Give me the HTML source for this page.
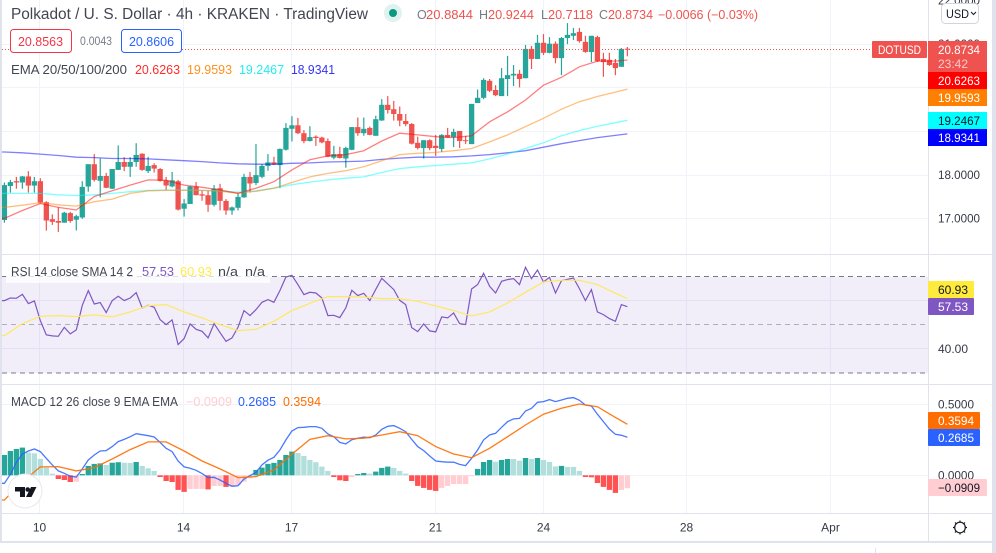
<!DOCTYPE html>
<html lang="en">
<head>
<meta charset="utf-8">
<title>Polkadot / U. S. Dollar 4h chart</title>
<style>
html,body{margin:0;padding:0;background:#fff;width:996px;height:553px;overflow:hidden}
svg{display:block;font-family:"Liberation Sans",Arial,sans-serif}
.ax{font-size:12px;fill:#363a45}
.lg{font-size:12.5px}
.pl{font-size:12px;font-weight:400;fill:#fff}
</style>
</head>
<body>
<svg id="chart" width="996" height="553" viewBox="0 0 996 553">
  <rect x="0" y="0" width="996" height="553" fill="#fff"/>
  <g id="grid"></g>
  <rect x="2" y="276.7" width="926" height="96.3" fill="#7e57c2" fill-opacity="0.1"/>
  <line x1="2" x2="928" y1="276.5" y2="276.5" stroke="#787b86" stroke-dasharray="5 4"/>
  <line x1="2" x2="928" y1="324.5" y2="324.5" stroke="#787b86" stroke-opacity="0.55" stroke-dasharray="5 4"/>
  <line x1="2" x2="928" y1="373" y2="373" stroke="#787b86" stroke-dasharray="5 4"/>
  <g id="candles"></g>
  <g id="emas"></g>
  <line id="lastPriceLine" x1="2" x2="872" stroke="#ef5350" stroke-dasharray="1 2"/>
  <g id="rsi"></g>
  <g id="hist"></g>
  <g id="macd"></g>

  <!-- frame -->
  <rect x="0" y="0" width="2" height="541" fill="#e0e3eb"/>
  <rect x="992" y="0" width="4" height="553" fill="#dfe3ee"/>
  <rect x="2" y="254" width="990" height="1" fill="#e0e3eb"/>
  <rect x="2" y="384" width="990" height="1" fill="#e0e3eb"/>
  <rect x="2" y="513" width="990" height="1" fill="#e0e3eb"/>
  <rect x="0" y="541" width="992" height="2" fill="#e0e3eb"/>
  <rect x="875" y="548" width="1" height="5" fill="#e0e3eb"/>
  <rect x="928" y="0" width="1" height="541" fill="#e0e3eb"/>
  <g id="axisLabels"></g>

  <!-- header -->
  <text x="11" y="19" font-size="15.5" fill="#434651" textLength="357" lengthAdjust="spacingAndGlyphs">Polkadot / U. S. Dollar · 4h · KRAKEN · TradingView</text>
  <circle cx="393" cy="13" r="9" fill="#e0f2ef"/>
  <circle cx="393" cy="13" r="4" fill="#089981"/>
  <g class="lg">
    <text x="417" y="19" fill="#787b86">O</text>
    <text x="426" y="19" fill="#ef5350" textLength="47" lengthAdjust="spacingAndGlyphs">20.8844</text>
    <text x="479" y="19" fill="#787b86">H</text>
    <text x="488" y="19" fill="#ef5350" textLength="46" lengthAdjust="spacingAndGlyphs">20.9244</text>
    <text x="541" y="19" fill="#787b86">L</text>
    <text x="548" y="19" fill="#ef5350" textLength="45" lengthAdjust="spacingAndGlyphs">20.7118</text>
    <text x="599" y="19" fill="#787b86">C</text>
    <text x="608" y="19" fill="#ef5350" textLength="45" lengthAdjust="spacingAndGlyphs">20.8734</text>
    <text x="658" y="19" fill="#ef5350" textLength="100" lengthAdjust="spacingAndGlyphs">−0.0066 (−0.03%)</text>
  </g>
  <rect x="10.5" y="29.5" width="61" height="23" rx="3" fill="#fff" stroke="#f23645"/>
  <text x="18" y="46" font-size="12.5" fill="#f23645" textLength="45" lengthAdjust="spacingAndGlyphs">20.8563</text>
  <rect x="72" y="30" width="49" height="22" fill="#fff"/>
  <text x="80" y="45" font-size="11.5" fill="#787b86" textLength="32" lengthAdjust="spacingAndGlyphs">0.0043</text>
  <rect x="121.5" y="29.5" width="60" height="23" rx="3" fill="#fff" stroke="#2962ff"/>
  <text x="129" y="46" font-size="12.5" fill="#2962ff" textLength="45" lengthAdjust="spacingAndGlyphs">20.8606</text>

  <!-- EMA legend -->
  <g class="lg">
    <text x="11" y="74" fill="#434651" textLength="116" lengthAdjust="spacingAndGlyphs">EMA 20/50/100/200</text>
    <text x="135" y="74" fill="#ff2b2b" textLength="45" lengthAdjust="spacingAndGlyphs">20.6263</text>
    <text x="187" y="74" fill="#ff9020" textLength="45" lengthAdjust="spacingAndGlyphs">19.9593</text>
    <text x="239" y="74" fill="#22eeee" textLength="45" lengthAdjust="spacingAndGlyphs">19.2467</text>
    <text x="291" y="74" fill="#3535f0" textLength="44" lengthAdjust="spacingAndGlyphs">18.9341</text>
  </g>

  <!-- RSI legend -->
  <rect x="6" y="264" width="264" height="19" fill="#fff" fill-opacity="0.75"/>
  <g class="lg">
    <text x="11" y="276" fill="#434651" textLength="122" lengthAdjust="spacingAndGlyphs">RSI 14 close SMA 14 2</text>
    <text x="142" y="276" fill="#7e57c2" textLength="32" lengthAdjust="spacingAndGlyphs">57.53</text>
    <text x="180" y="276" fill="#ffe94d" textLength="32" lengthAdjust="spacingAndGlyphs">60.93</text>
    <text x="218" y="276" fill="#434651" textLength="20" lengthAdjust="spacingAndGlyphs">n/a</text>
    <text x="245" y="276" fill="#434651" textLength="20" lengthAdjust="spacingAndGlyphs">n/a</text>
  </g>

  <!-- MACD legend -->
  <g class="lg">
    <text x="11" y="406" fill="#434651" textLength="167" lengthAdjust="spacingAndGlyphs">MACD 12 26 close 9 EMA EMA</text>
    <text x="186" y="406" fill="#ffcdd2" textLength="46" lengthAdjust="spacingAndGlyphs">−0.0909</text>
    <text x="238" y="406" fill="#2962ff" textLength="38" lengthAdjust="spacingAndGlyphs">0.2685</text>
    <text x="283" y="406" fill="#ff6d00" textLength="38" lengthAdjust="spacingAndGlyphs">0.3594</text>
  </g>

  <!-- TradingView logo -->
  <g>
    <circle cx="25" cy="491" r="17" fill="#fff" stroke="#e8e8ec"/>
    <path d="M15 487h10v10h-5v-5.500h-5z" fill="#131722"/>
    <circle cx="27.700" cy="489.500" r="2.300" fill="#131722"/>
    <path d="M31 487h5.500l-5 10h-5.500z" fill="#131722"/>
  </g>

  <!-- price axis badges -->
  <rect x="941.500" y="3.500" width="37" height="20" rx="4" fill="#fff" stroke="#d1d4dc"/>
  <text x="946" y="18" font-size="12" fill="#131722" textLength="23" lengthAdjust="spacingAndGlyphs">USD</text>
  <path d="M971 12l2.500 2.500 2.500-2.500" fill="none" stroke="#131722"/>

  <rect x="872" y="41" width="55" height="17" rx="1" fill="#ef5350"/>
  <text x="878" y="54" class="pl" textLength="43" lengthAdjust="spacingAndGlyphs">DOTUSD</text>
  <rect x="928" y="41" width="59" height="31" fill="#ef5350"/>
  <text x="938" y="54" class="pl" textLength="42" lengthAdjust="spacingAndGlyphs">20.8734</text>
  <text x="938" y="68" class="pl" style="fill:#ffc9c9" textLength="30" lengthAdjust="spacingAndGlyphs">23:42</text>
  <rect x="928" y="72" width="59" height="17" fill="#ff0000"/>
  <text x="938" y="85" class="pl" textLength="42" lengthAdjust="spacingAndGlyphs">20.6263</text>
  <rect x="928" y="89" width="59" height="17" fill="#ff8000"/>
  <text x="938" y="102" class="pl" textLength="42" lengthAdjust="spacingAndGlyphs">19.9593</text>
  <rect x="928" y="112" width="59" height="17" fill="#00ffff"/>
  <text x="938" y="125" class="pl" style="fill:#131722" textLength="42" lengthAdjust="spacingAndGlyphs">19.2467</text>
  <rect x="928" y="129" width="59" height="17" fill="#0000ff"/>
  <text x="938" y="142" class="pl" textLength="42" lengthAdjust="spacingAndGlyphs">18.9341</text>

  <rect x="928" y="281" width="46" height="17" rx="1" fill="#ffeb3b"/>
  <text x="938" y="294" class="pl" style="fill:#131722" textLength="30" lengthAdjust="spacingAndGlyphs">60.93</text>
  <rect x="928" y="298" width="46" height="17" rx="1" fill="#7e57c2"/>
  <text x="938" y="311" class="pl" textLength="30" lengthAdjust="spacingAndGlyphs">57.53</text>

  <rect x="928" y="412" width="52" height="17" rx="1" fill="#ff6d00"/>
  <text x="938" y="425" class="pl" textLength="36" lengthAdjust="spacingAndGlyphs">0.3594</text>
  <rect x="928" y="429" width="52" height="17" rx="1" fill="#2962ff"/>
  <text x="938" y="442" class="pl" textLength="36" lengthAdjust="spacingAndGlyphs">0.2685</text>
  <rect x="928" y="479" width="59" height="17" rx="1" fill="#ffcdd2"/>
  <text x="938" y="492" class="pl" style="fill:#131722" textLength="42" lengthAdjust="spacingAndGlyphs">−0.0909</text>

  <!-- settings gear -->
  <g fill="none" stroke="#131722">
    <circle cx="960" cy="527.500" r="5.300" stroke-width="1.200"/>
    <path d="M960 520.500v2M960 532.500v2M953 527.500h2M965 527.500h2M955 522.500l1.400 1.400M963.600 531.100l1.400 1.400M965 522.500l-1.400 1.400M956.400 531.100l-1.400 1.400" stroke-width="1.200"/>
  </g>
</svg>

<script>
// ---- candle data ----
const opens = [16.96,17.74,17.85,17.82,17.96,17.75,17.85,17.37,16.98,16.94,
16.90,17.12,16.97,17.02,17.73,18.24,17.86,17.97,17.68,18.11,
18.29,18.18,18.29,18.48,18.08,18.22,18.13,17.87,17.73,17.85,
17.22,17.33,17.73,17.55,17.53,17.31,17.69,17.40,17.18,17.24,
17.48,17.95,17.81,17.95,18.20,18.28,18.22,18.57,19.05,19.13,
18.95,18.77,18.87,18.85,18.77,18.39,18.47,18.37,18.57,19.09,
18.95,19.07,18.89,19.24,19.60,19.50,19.39,19.23,19.16,18.73,
18.61,18.79,18.66,18.59,18.91,18.86,19.00,18.79,18.70,19.64,
19.76,20.15,19.94,19.80,20.19,20.27,20.31,20.21,20.88,20.65,
21.02,20.79,21.00,20.67,21.13,21.18,21.27,21.04,20.81,21.15,
20.65,20.63,20.56,20.47,20.8844];
const highs = [17.82,17.88,17.95,17.97,18.08,17.95,17.92,17.39,17.09,17.25,
17.15,17.15,17.08,17.85,18.24,18.47,18.37,18.04,18.13,18.67,
18.40,18.40,18.72,18.49,18.41,18.26,18.15,17.95,18.06,17.88,
17.44,17.74,17.83,17.63,17.63,17.76,17.79,17.44,17.27,17.57,
18.02,18.06,18.70,18.24,18.47,18.41,18.60,19.18,19.34,19.30,
19.02,19.11,18.90,18.87,18.83,18.66,18.64,18.64,19.09,19.31,
19.31,19.10,19.35,19.73,19.80,19.69,19.56,19.39,19.18,18.87,
18.79,18.81,18.91,18.93,19.07,19.05,19.00,18.89,19.62,19.95,
20.21,20.19,20.05,20.44,20.72,20.51,20.40,20.97,20.95,21.20,
21.22,21.15,21.05,21.15,21.47,21.36,21.36,21.18,21.18,21.18,
20.79,20.79,20.65,20.90,20.9244];
const lows = [16.90,17.59,17.68,17.68,17.59,17.59,17.34,16.72,16.85,16.69,
16.90,16.90,16.72,16.99,17.61,17.84,17.48,17.69,17.67,18.11,
18.08,17.95,18.18,18.09,18.04,18.05,17.84,17.65,17.71,17.18,
17.04,17.33,17.53,17.40,17.15,17.27,17.18,17.08,17.08,17.18,
17.47,17.59,17.76,17.92,18.09,18.22,17.69,18.55,18.76,18.93,
18.72,18.76,18.66,18.72,18.40,18.35,18.37,18.16,18.56,18.89,
18.89,18.90,18.89,19.23,19.40,19.24,19.11,19.11,18.69,18.58,
18.37,18.56,18.43,18.52,18.84,18.63,18.61,18.70,18.70,19.64,
19.73,19.89,19.80,19.80,19.80,20.03,20.00,20.21,20.42,20.65,
20.74,20.78,20.55,20.28,20.99,21.08,21.02,20.79,20.58,20.58,
20.24,20.49,20.28,20.47,20.7118];
const closes = [17.76,17.83,17.82,17.96,17.75,17.85,17.36,16.95,16.92,16.90,
17.13,16.94,17.05,17.72,18.24,17.88,17.97,17.70,18.13,18.29,
18.18,18.29,18.45,18.11,18.20,18.14,17.86,17.75,17.87,17.20,
17.34,17.73,17.53,17.52,17.31,17.68,17.40,17.18,17.25,17.49,
17.95,17.80,17.99,18.20,18.28,18.23,18.59,19.07,19.13,18.95,
18.77,18.86,18.84,18.74,18.41,18.47,18.38,18.61,19.09,18.95,
19.05,18.91,19.27,19.60,19.48,19.39,19.24,19.16,18.71,18.61,
18.79,18.61,18.61,18.91,18.85,18.98,18.77,18.77,19.62,19.76,
20.17,19.92,19.82,20.21,20.28,20.31,20.19,20.88,20.65,21.02,
20.79,21.00,20.67,21.13,21.20,21.24,21.06,20.81,21.18,20.60,
20.58,20.51,20.44,20.88,20.8734];

// ---- bars at which the smooth indicator lines were read ----
const sampleBars = [0,3,6,9,12,15,18,21,24,27,30,33,36,39,42,45,48,51,54,57,60,63,66,69,72,75,78,81,84,87,90,93,96,99,102,104];

const ema20 = [17.00,17.18,17.34,17.25,17.19,17.50,17.63,17.76,17.88,17.87,17.76,17.71,17.65,17.57,17.69,17.84,18.11,18.34,18.43,18.46,18.55,18.77,18.95,18.91,18.87,18.85,18.89,19.21,19.44,19.71,20.05,20.23,20.47,20.60,20.60,20.6263];
const ema50 = [17.25,17.30,17.36,17.31,17.28,17.38,17.44,17.57,17.63,17.64,17.64,17.64,17.62,17.58,17.62,17.69,17.82,17.95,18.03,18.09,18.18,18.32,18.46,18.49,18.51,18.55,18.60,18.75,18.91,19.10,19.29,19.50,19.67,19.79,19.89,19.9593];
const ema100 = [17.57,17.57,17.57,17.54,17.52,17.54,17.57,17.61,17.64,17.65,17.65,17.64,17.63,17.60,17.63,17.69,17.77,17.83,17.88,17.92,17.95,18.05,18.14,18.18,18.21,18.24,18.27,18.36,18.47,18.60,18.73,18.89,19.01,19.11,19.19,19.2467];
const ema200 = [18.52,18.50,18.47,18.44,18.40,18.39,18.37,18.37,18.36,18.34,18.32,18.30,18.27,18.25,18.24,18.24,18.26,18.27,18.29,18.30,18.31,18.35,18.38,18.40,18.40,18.41,18.43,18.46,18.50,18.55,18.63,18.71,18.78,18.85,18.90,18.9341];

// ---- RSI (every bar) and its SMA (sampleBars) ----
const rsiValues = [60.05,61.16,61.02,62.68,58.81,59.92,51.76,45.81,45.39,45.25,
48.99,46.22,47.88,58.12,64.20,58.67,59.22,55.07,60.05,61.85,
60.05,61.16,63.37,57.01,58.12,57.29,52.17,50.10,52.03,41.80,
44.29,50.37,48.16,47.33,44.56,50.51,46.78,43.18,44.56,48.99,
55.90,53.83,56.32,59.36,60.47,59.36,64.20,69.87,70.56,66.69,
62.54,63.51,63.23,61.16,53.83,53.97,53.00,57.01,64.34,62.13,
63.10,60.05,64.76,69.32,66.97,64.62,60.19,58.39,48.85,47.19,
50.37,47.47,47.05,53.28,52.86,54.94,50.51,50.10,64.89,66.69,
71.39,66.00,63.23,68.07,68.77,69.18,66.69,73.88,69.18,72.78,
67.80,69.73,63.23,68.35,68.90,69.46,65.03,60.05,64.62,55.35,
54.25,52.59,51.48,58.39,57.53];
const rsiSma = [45.53,50.51,53.55,53.83,53.41,54.11,53.28,55.35,57.98,58.39,55.35,52.86,50.10,47.61,48.16,51.48,55.90,58.95,61.71,61.71,61.57,60.88,60.88,59.78,57.84,55.90,53.69,55.35,59.09,63.51,67.80,68.49,68.49,66.69,63.10,60.93];

// ---- MACD ----
const macdHist = [.143,.171,.185,.195,.160,.155,.115,.054,.012,-.026,
-.033,-.047,-.045,.009,.066,.080,.084,.073,.089,.092,
.089,.087,.094,.066,.049,.031,-.012,-.040,-.047,-.103,
-.117,-.096,-.096,-.096,-.099,-.075,-.075,-.082,-.082,-.068,
-.045,-.021,.038,.054,.080,.087,.108,.143,.167,.157,
.136,.108,.092,.061,.031,-.012,-.035,-.040,-.012,.009,
.016,.012,.026,.052,.061,.052,.031,.012,-.040,-.075,
-.089,-.103,-.110,-.089,-.075,-.061,-.061,-.061,-.005,.045,
.094,.108,.096,.108,.115,.115,.103,.122,.115,.122,
.108,.094,.063,.066,.059,.059,.031,-.012,-.014,-.054,
-.082,-.103,-.124,-.103,-.0909];
const macdLine = [-.056,.007,.092,.150,.171,.185,.167,.120,.073,.031,
.014,-.007,-.012,.045,.108,.143,.171,.174,.202,.237,
.253,.272,.293,.286,.279,.270,.232,.190,.167,.101,
.059,.049,.035,.012,-.016,-.014,-.033,-.056,-.077,-.073,
-.026,-.002,.021,.073,.106,.127,.178,.249,.312,.336,
.338,.343,.343,.331,.291,.272,.232,.221,.251,.261,
.268,.265,.284,.324,.345,.350,.331,.307,.253,.202,
.174,.136,.101,.096,.092,.092,.077,.068,.120,.178,
.249,.284,.296,.338,.378,.397,.401,.453,.472,.514,
.519,.533,.519,.530,.542,.547,.528,.495,.488,.430,
.378,.326,.289,.282,.2685];
const macdSignal = [-.174,-.045,.059,.061,.031,.054,.115,.181,.235,.235,.171,.101,.045,-.016,-.009,.038,.148,.253,.279,.256,.261,.284,.307,.279,.202,.150,.124,.190,.272,.354,.430,.472,.502,.483,.408,.3594];

// ---- axis ticks ----
const priceTicks = [22,21,18,17];
const priceGrid = [21,20,19,18,17];
const rsiTicks = [40];
const rsiGrid = [60,40];
const macdTicks = [0.5,0];
const dateBars = [6,30,48,72,90,114,138];
const dateLabels = ["10","14","17","21","24","28","Apr"];

// ---- axis functions ----
const BAR_STEP = 5.99, BAR_START = 4.4, BODY_W = 5.3;
const xBar = i => BAR_START + i * BAR_STEP;
const yPrice = p => (22 - p) * 43.667;
const yRsi = v => 276.67 + (70 - v) * 2.408;
const yMacd = v => 475.3 - v * 142;

const root = document.getElementById('chart');
const NS = root.namespaceURI;
function mk(parent, tag, attrs, text) {
  const el = document.createElementNS(NS, tag);
  for (const k in attrs) el.setAttribute(k, attrs[k]);
  if (text !== undefined) el.textContent = text;
  parent.appendChild(el);
  return el;
}
const $ = id => document.getElementById(id);

// grid
const GRID = '#f0f3fa';
dateBars.forEach((b, i) => {
  const x = Math.round(xBar(b)) - 0.5;
  [[0, 254], [255, 384], [385, 513]].forEach(seg => {
    const el = mk($('grid'), 'line', {x1: x, x2: x, y1: seg[0], y2: seg[1], stroke: GRID});
    
    
  });
  const t = mk($('axisLabels'), 'text', {x: x, y: 531.5, 'text-anchor': 'middle', class: 'ax'}, dateLabels[i]);
  
  
});
priceGrid.forEach(p => {
  const y = Math.round(yPrice(p)) + 0.5;
  const el = mk($('grid'), 'line', {x1: 2, x2: 928, y1: y, y2: y, stroke: GRID});
  
  
});
rsiGrid.forEach(v => {
  const y = Math.round(yRsi(v)) - 0.5;
  const el = mk($('grid'), 'line', {x1: 2, x2: 928, y1: y, y2: y, stroke: '#f0f0f6'});
  
  
});
macdTicks.forEach(v => {
  const y = Math.round(yMacd(v)) + 0.5;
  const el = mk($('grid'), 'line', {x1: 2, x2: 928, y1: y, y2: y, stroke: GRID});
  
  
  const t = mk($('axisLabels'), 'text', {x: 938, y: yMacd(v) + 4.3, class: 'ax', textLength: 36, lengthAdjust: 'spacingAndGlyphs'}, v.toFixed(4));
  
  
});
priceTicks.forEach(p => {
  const t = mk($('axisLabels'), 'text', {x: 938, y: yPrice(p) + 4.3, class: 'ax', textLength: 42, lengthAdjust: 'spacingAndGlyphs'}, p.toFixed(4));
  
  
});
rsiTicks.forEach(v => {
  const t = mk($('axisLabels'), 'text', {x: 938, y: yRsi(v) + 4.3, class: 'ax', textLength: 30, lengthAdjust: 'spacingAndGlyphs'}, v.toFixed(2));
  
  
});

// candles
opens.forEach((o, i) => {
  const c = closes[i];
  const col = c >= o ? '#26a69a' : '#ef5350';
  const cx = xBar(i);
  const top = yPrice(Math.max(o, c));
  const bot = yPrice(Math.min(o, c));
  const g = mk($('candles'), 'g', {});
  
  
  const w = mk(g, 'rect', {x: (cx - 0.6).toFixed(2), y: yPrice(highs[i]).toFixed(1), width: 1.2, height: Math.max(1, yPrice(lows[i]) - yPrice(highs[i])).toFixed(1), fill: col});
  
  
  const b = mk(g, 'rect', {x: (cx - BODY_W / 2).toFixed(2), y: top.toFixed(1), width: BODY_W, height: Math.max(1, bot - top).toFixed(1), fill: col});
  
  
});

// last-price line
const lastY = Math.round(yPrice(closes[closes.length - 1])) + 0.5;
$('lastPriceLine').setAttribute('y1', lastY);
$('lastPriceLine').setAttribute('y2', lastY);

// lines run on from the left edge of the pane at their first value
function pts(bars, values, yFn) {
  const head = '2,' + yFn(values[0]).toFixed(1) + ' ';
  return head + values.map((v, i) => xBar(bars ? bars[i] : i).toFixed(1) + ',' + yFn(v).toFixed(1)).join(' ');
}

// EMA lines
const e200 = mk($('emas'), 'polyline', {points: pts(sampleBars, ema200, yPrice), fill: 'none', stroke: '#0000ff', 'stroke-opacity': 0.5, 'stroke-width': 1.3});


const e100 = mk($('emas'), 'polyline', {points: pts(sampleBars, ema100, yPrice), fill: 'none', stroke: '#00ffff', 'stroke-opacity': 0.5, 'stroke-width': 1.3});


const e50 = mk($('emas'), 'polyline', {points: pts(sampleBars, ema50, yPrice), fill: 'none', stroke: '#ff8000', 'stroke-opacity': 0.5, 'stroke-width': 1.3});


const e20 = mk($('emas'), 'polyline', {points: pts(sampleBars, ema20, yPrice), fill: 'none', stroke: '#ff0000', 'stroke-opacity': 0.5, 'stroke-width': 1.3});



// RSI
const rsiLine = mk($('rsi'), 'polyline', {points: pts(null, rsiValues, yRsi), fill: 'none', stroke: '#7e57c2', 'stroke-width': 1.2});


const smaLine = mk($('rsi'), 'polyline', {points: pts(sampleBars, rsiSma, yRsi), fill: 'none', stroke: '#ffe860', 'stroke-width': 1.2});



// MACD histogram
macdHist.forEach((v, i) => {
  const prev = i ? macdHist[i - 1] : 0;
  const col = v >= 0 ? (v > prev ? '#26a69a' : '#b2dfdb') : (v < prev ? '#ff5252' : '#ffcdd2');
  const y0 = yMacd(0), y1 = yMacd(v);
  const bar = mk($('hist'), 'rect', {x: (xBar(i) - BODY_W / 2).toFixed(2), y: Math.min(y0, y1).toFixed(1), width: BODY_W, height: Math.max(1, Math.abs(y1 - y0)).toFixed(1), fill: col});
  
  
});

// MACD lines
const mLine = mk($('macd'), 'polyline', {points: pts(null, macdLine, yMacd), fill: 'none', stroke: '#2962ff', 'stroke-opacity': 0.85, 'stroke-width': 1.3});


const sLine = mk($('macd'), 'polyline', {points: pts(sampleBars, macdSignal, yMacd), fill: 'none', stroke: '#ff6d00', 'stroke-opacity': 0.9, 'stroke-width': 1.3});


</script>
</body>
</html>
